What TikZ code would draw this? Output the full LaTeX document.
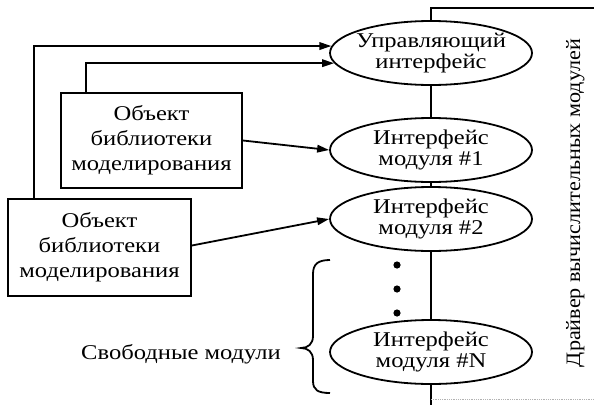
\documentclass[tikz,border=0pt]{standalone}
\usepackage{fontspec}
\setmainfont[FakeStretch=1.17]{Liberation Serif}
\newfontfamily\drvfont[FakeStretch=1.08]{Liberation Serif}
\usetikzlibrary{shapes.geometric,arrows.meta}
\begin{document}
\begin{tikzpicture}[x=1pt,y=-1pt,
  every path/.style={line width=1.8pt},
  ell/.style={draw,ellipse,minimum width=202pt,minimum height=64pt,inner sep=0pt},
  etxt/.style={align=center,font=\fontsize{21}{20.5}\selectfont,inner sep=0pt},
  obox/.style={draw,rectangle,align=center,font=\fontsize{21}{25}\selectfont,inner sep=0pt},
  arr/.style={-{Triangle[length=12pt,width=7.5pt]}},
  lbl/.style={font=\fontsize{21}{22}\selectfont,inner sep=0pt}]
\useasboundingbox (0,0) rectangle (594,407);
% ellipses
\node[ell] (e1) at (431,53) {};
\node[etxt] at (e1) {Управляющий\\интерфейс};
\node[ell] (e2) at (431,150) {};
\node[etxt] at (e2) {Интерфейс\\модуля \#1};
\node[ell] (e3) at (431,219) {};
\node[etxt] at (e3) {Интерфейс\\модуля \#2};
\node[ell] (eN) at (431,352) {};
\node[etxt] at (eN) {Интерфейс\\модуля \#N};
% boxes
\node[obox,minimum width=181pt,minimum height=95pt] (b1) at (151.5,140.5) {Объект\\библиотеки\\моделирования};
\node[obox,minimum width=183pt,minimum height=97pt] (b2) at (99.5,247.5) {Объект\\библиотеки\\моделирования};
% driver frame
\coordinate (tr) at (594,8);
\coordinate (tl) at (431,8);
\coordinate (bl) at (431,405);
\coordinate (br) at (594,399);
\coordinate (blg) at (431,399);
\draw (tr) -- (tl) -- (e1.north);
\draw (e1.south) -- (e2.north);
\draw (e2.south) -- (e3.north);
\draw (e3.south) -- (eN.north);
\draw (eN.south) -- (bl);
\draw[gray!60,line width=0.8pt,densely dotted] (blg) -- (br);
\node[inner sep=0pt,font=\drvfont\fontsize{20.5}{22}\selectfont,rotate=90,anchor=base] (drv) at (580,203) {Драйвер вычислительных модулей};
% connectors
\draw[arr] ([xshift=27pt]b2.north west) |- (e1.176.5);
\draw[arr] ([xshift=26pt]b1.north west) |- (e1.186);
\draw[arr] (b1.east) -- (e2.west);
\draw[arr] ([yshift=2pt]b2.east) -- (e3.west);
% dots
\fill (397,265) circle (3.6pt);
\fill (397,289) circle (3.6pt);
\fill (397,313) circle (3.6pt);
% brace
\draw (330,260) .. controls (318,260) and (313,264) .. (313,274) -- (313,336)
  .. controls (313,344) and (308,348) .. (301,348)
  .. controls (308,348) and (313,352) .. (313,360) -- (313,381)
  .. controls (313,390) and (318,393) .. (330,393);
\node[lbl,anchor=base] (free) at (181,359) {Свободные модули};
\end{tikzpicture}
\end{document}
